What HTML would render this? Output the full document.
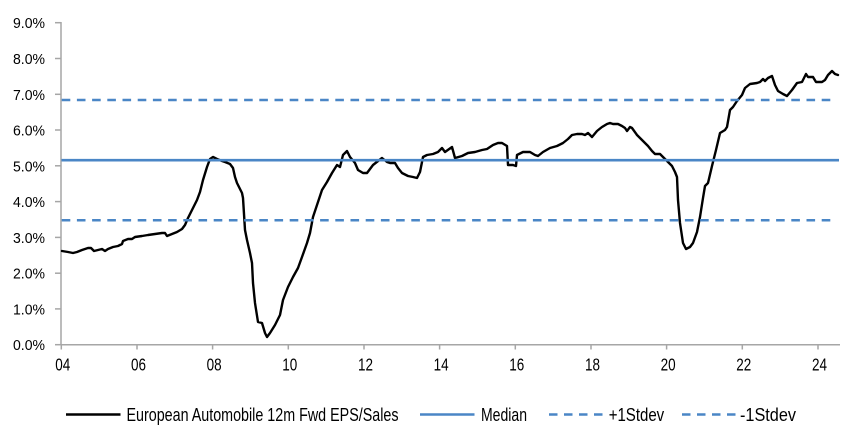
<!DOCTYPE html>
<html>
<head>
<meta charset="utf-8">
<style>
html,body{margin:0;padding:0;background:#fff;}
svg{display:block;}
text{font-family:"Liberation Sans",Arial,sans-serif;fill:#000;}
</style>
</head>
<body>
<svg width="852" height="444" viewBox="0 0 852 444" xmlns="http://www.w3.org/2000/svg">
  <!-- axes -->
  <g stroke="#a6a6a6" stroke-width="1.5" fill="none">
    <line x1="61" y1="22" x2="61" y2="345"/>
    <line x1="61" y1="344.7" x2="840" y2="344.7"/>
    <!-- y ticks -->
    <line x1="55" y1="22.7" x2="61" y2="22.7"/>
    <line x1="55" y1="58.5" x2="61" y2="58.5"/>
    <line x1="55" y1="94.3" x2="61" y2="94.3"/>
    <line x1="55" y1="130.0" x2="61" y2="130.0"/>
    <line x1="55" y1="165.8" x2="61" y2="165.8"/>
    <line x1="55" y1="201.6" x2="61" y2="201.6"/>
    <line x1="55" y1="237.4" x2="61" y2="237.4"/>
    <line x1="55" y1="273.2" x2="61" y2="273.2"/>
    <line x1="55" y1="308.9" x2="61" y2="308.9"/>
    <line x1="55" y1="344.7" x2="61" y2="344.7"/>
    <!-- x ticks -->
    <line x1="61.3" y1="344.7" x2="61.3" y2="349.5"/>
    <line x1="137.0" y1="344.7" x2="137.0" y2="349.5"/>
    <line x1="212.6" y1="344.7" x2="212.6" y2="349.5"/>
    <line x1="288.3" y1="344.7" x2="288.3" y2="349.5"/>
    <line x1="364.0" y1="344.7" x2="364.0" y2="349.5"/>
    <line x1="439.6" y1="344.7" x2="439.6" y2="349.5"/>
    <line x1="515.3" y1="344.7" x2="515.3" y2="349.5"/>
    <line x1="591.0" y1="344.7" x2="591.0" y2="349.5"/>
    <line x1="666.6" y1="344.7" x2="666.6" y2="349.5"/>
    <line x1="742.3" y1="344.7" x2="742.3" y2="349.5"/>
    <line x1="818.0" y1="344.7" x2="818.0" y2="349.5"/>
  </g>

  <!-- y labels -->
  <g font-size="14.5" text-anchor="end">
    <text x="45" y="28.2" textLength="32" lengthAdjust="spacingAndGlyphs">9.0%</text>
    <text x="45" y="64.0" textLength="32" lengthAdjust="spacingAndGlyphs">8.0%</text>
    <text x="45" y="99.8" textLength="32" lengthAdjust="spacingAndGlyphs">7.0%</text>
    <text x="45" y="135.5" textLength="32" lengthAdjust="spacingAndGlyphs">6.0%</text>
    <text x="45" y="171.3" textLength="32" lengthAdjust="spacingAndGlyphs">5.0%</text>
    <text x="45" y="207.1" textLength="32" lengthAdjust="spacingAndGlyphs">4.0%</text>
    <text x="45" y="242.9" textLength="32" lengthAdjust="spacingAndGlyphs">3.0%</text>
    <text x="45" y="278.7" textLength="32" lengthAdjust="spacingAndGlyphs">2.0%</text>
    <text x="45" y="314.4" textLength="32" lengthAdjust="spacingAndGlyphs">1.0%</text>
    <text x="45" y="350.2" textLength="32" lengthAdjust="spacingAndGlyphs">0.0%</text>
  </g>

  <!-- x labels -->
  <g font-size="17.5" text-anchor="middle">
    <text x="62.8" y="370.7" textLength="15" lengthAdjust="spacingAndGlyphs">04</text>
    <text x="138.5" y="370.7" textLength="15" lengthAdjust="spacingAndGlyphs">06</text>
    <text x="214.1" y="370.7" textLength="15" lengthAdjust="spacingAndGlyphs">08</text>
    <text x="289.8" y="370.7" textLength="15" lengthAdjust="spacingAndGlyphs">10</text>
    <text x="365.5" y="370.7" textLength="15" lengthAdjust="spacingAndGlyphs">12</text>
    <text x="441.1" y="370.7" textLength="15" lengthAdjust="spacingAndGlyphs">14</text>
    <text x="516.8" y="370.7" textLength="15" lengthAdjust="spacingAndGlyphs">16</text>
    <text x="592.5" y="370.7" textLength="15" lengthAdjust="spacingAndGlyphs">18</text>
    <text x="668.1" y="370.7" textLength="15" lengthAdjust="spacingAndGlyphs">20</text>
    <text x="743.8" y="370.7" textLength="15" lengthAdjust="spacingAndGlyphs">22</text>
    <text x="819.5" y="370.7" textLength="15" lengthAdjust="spacingAndGlyphs">24</text>
  </g>

  <!-- data series -->
  <polyline fill="none" stroke="#000" stroke-width="2.4" stroke-linejoin="round" stroke-linecap="round"
    points="62,251 68,252 73,253 77,252 82,250 88,248 91,248 94,251 98,250 102,249 105,251 108,249 113,247 118,246 122,244 123,241 128,239 132,239 135,237 142,236 148,235 155,234 162,233 165,233 167,236 172,234 177,232 182,229 185,225 188,218 192,210 197,200 200,192 203,180 207,167 210,159 213,157 217,159 222,161 225,162 230,164 233,168 235,177 237,183 242,193 243,198 245,230 247,240 250,253 252,263 253,283 255,303 258,322 262,323 265,333 267,337 270,333 275,325 280,315 283,300 288,287 293,277 298,268 302,257 307,243 310,233 313,217 317,205 322,190 327,182 332,173 337,165 340,167 343,155 347,151 350,157 355,163 358,170 363,173 367,173 373,165 382,158 387,162 390,163 395,163 398,168 402,173 408,176 413,177 417,178 420,172 423,157 427,155 433,154 438,152 442,148 445,152 452,147 455,158 462,156 468,153 475,152 482,150 487,149 493,145 498,143 502,143 507,146 508,165 513,165 516,166 517,155 523,152 530,152 535,155 538,156 543,152 550,148 557,146 563,143 568,139 572,135 577,134 582,134 585,135 588,133 592,137 597,131 602,127 607,124 610,123 613,124 618,124 622,126 625,128 627,131 630,127 632,128 637,135 640,138 645,143 648,146 652,151 655,154 660,154 663,157 667,161 672,166 675,172 677,177 678,200 680,223 683,243 686,249 690,247 693,243 697,232 700,217 703,198 705,186 708,183 712,166 716,150 720,133 725,130 727,127 730,110 733,107 737,101 742,95 745,88 750,84 757,83 760,82 763,79 765,81 768,78 772,76 775,85 778,91 783,94 787,96 792,90 797,83 802,82 806,74 808,77 813,77 816,82 822,82 825,80 828,75 832,71 835,74 838,75"/>

  <!-- median & stdev lines -->
  <line x1="61.5" y1="160.2" x2="839" y2="160.2" stroke="#4a86c6" stroke-width="2.6"/>
  <line x1="61.7" y1="100" x2="833" y2="100" stroke="#4a86c6" stroke-width="2.5" stroke-dasharray="8.6 6.6"/>
  <line x1="61.7" y1="220.3" x2="833" y2="220.3" stroke="#4a86c6" stroke-width="2.5" stroke-dasharray="8.6 6.6"/>

  <!-- legend -->
  <line x1="66" y1="414.5" x2="120.5" y2="414.5" stroke="#000" stroke-width="2.4"/>
  <text x="126.5" y="421" font-size="18.5" textLength="272" lengthAdjust="spacingAndGlyphs">European Automobile 12m Fwd EPS/Sales</text>

  <line x1="420" y1="414.5" x2="474.5" y2="414.5" stroke="#4a86c6" stroke-width="2.6"/>
  <text x="481" y="421" font-size="18.5" textLength="46" lengthAdjust="spacingAndGlyphs">Median</text>

  <line x1="549" y1="414.5" x2="604" y2="414.5" stroke="#4a86c6" stroke-width="2.5" stroke-dasharray="8.5 6.5"/>
  <text x="608.7" y="421" font-size="18.5" textLength="55.5" lengthAdjust="spacingAndGlyphs">+1Stdev</text>

  <line x1="682" y1="414.5" x2="737" y2="414.5" stroke="#4a86c6" stroke-width="2.5" stroke-dasharray="8.5 6.5"/>
  <text x="740" y="421" font-size="18.5" textLength="56" lengthAdjust="spacingAndGlyphs">-1Stdev</text>
</svg>
</body>
</html>
